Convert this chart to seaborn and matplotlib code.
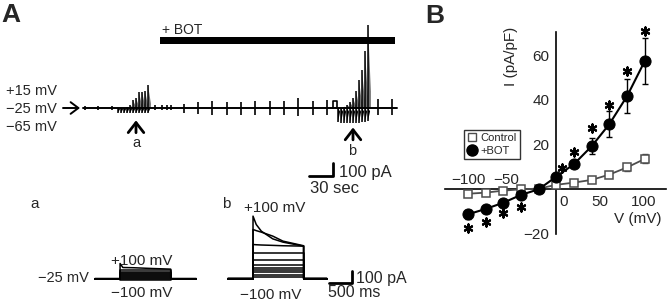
import numpy as np
import pandas as pd
import matplotlib
matplotlib.use("Agg")
import matplotlib.pyplot as plt
import seaborn as sns
from matplotlib.lines import Line2D
from matplotlib.patches import ArrowStyle

# ---------------- data ----------------
# panel B: I-V relation (pA/pF vs mV)
volts = [-100, -80, -60, -40, -20, 0, 20, 40, 60, 80, 100]
ctrl_i = [-2.0, -1.5, -0.6, 0.0, 0.3, 2.0, 3.0, 4.2, 6.6, 9.8, 13.6]
ctrl_err = [0.8, 0.8, 0.7, 0.7, 0.6, 0.8, 0.8, 1.0, 1.2, 1.4, 2.0]
bot_i = [-11.2, -8.8, -6.0, -2.5, 0.0, 5.7, 11.3, 19.3, 29.2, 41.7, 57.4]
bot_err = [1.9, 1.2, 1.0, 1.0, 0.8, 1.2, 1.5, 3.7, 5.7, 7.7, 10.2]
star_v = [-100, -80, -60, -40, 6, 20, 40, 60, 80, 100]
star_i = [-17.5, -14.5, -10.7, -7.8, 9.4, 16.9, 27.3, 37.8, 52.7, 71.0]

# panel A top: continuous recording (time in s, current in pA)
trace_end = 392.5
pulse_t = [2.5, 18.75, 36.25, 90, 98.75, 105, 110,
           126.25, 143.75, 161.25, 180, 197.5, 215, 233.75, 251.25,
           268.75, 287.5, 305, 368.75, 386.25]
pulse_up = [15, 15, 15, 20, 20, 20, 20,
            31, 46, 54, 46, 46, 54, 54, 54, 77, 54, 62, 69, 69]
pulse_down = [15, 15, 15, 15, 15, 15, 15,
              38, 46, 54, 54, 54, 54, 54, 54, 62, 54, 54, 54, 54]
bump_t = [312.5, 317.5]
bump_amp = 54
burst_a_t = [43.75, 47.5, 51.25, 55.0, 58.75, 62.5, 66.25, 70.0, 73.75, 77.5, 81.25]
burst_a_up = [0, 0, 0, 8, 20, 60, 77, 120, 125, 131, 177]
burst_a_down = [35, 38, 38, 40, 38, 38, 38, 38, 38, 38, 38]
burst_b_t = [318.75, 322.5, 326.25, 330.0, 333.75, 337.5, 341.25, 345.0, 348.75, 352.5, 356.25]
burst_b_up = [0, 0, 10, 25, 45, 77, 131, 215, 292, 440, 640]
burst_b_down = [110, 115, 115, 115, 115, 115, 115, 115, 110, 110, 100]
bot_start, bot_stop = 96.25, 390.0

# panel A bottom: current families (time in ms, current in pA)
step_on, step_dur = 545, 1100
a_end = 2200
b_shift, b_end = 2890, 2150
a_levels = [-8, 0, 6, 12, 20, 28, 36, 45, 55, 70]
a_top_t = [0, 60, 300, 700, 1100]
a_top_i = [120, 88, 86, 80, 75]
b_levels = [13, 32, 51, 67, 85, 112, 152, 205]
b_decay_t = [0, 70, 180, 430, 650, 1100]
b_i_60 = [272, 270, 268, 265, 262, 259]
b_i_80 = [392, 383, 371, 339, 299, 262]
b_i_100 = [499, 432, 379, 317, 291, 259]

# ---------------- figure ----------------
sns.set_style("white")
plt.rcParams['font.family'] = ['Liberation Sans', 'DejaVu Sans']

W, H = 669, 303
fig = plt.figure(figsize=(W / 100, H / 100), dpi=100)


def box(x0, y0, x1, y1):
    # pixel box -> figure fraction rect
    return [x0 / W, 1 - y1 / H, (x1 - x0) / W, (y1 - y0) / H]


up_arrow = dict(arrowstyle=ArrowStyle('->', head_length=0.45, head_width=0.35),
                lw=2, mutation_scale=16, color='black', shrinkA=0, shrinkB=0)

# --- A top trace ---
ax_a = fig.add_axes(box(80, 15, 400, 185))
ax_a.set_xlim(-3.75, 396.25)
ax_a.set_ylim(-592.3, 715.4)
ax_a.axis('off')

ax_a.plot([0, trace_end], [0, 0], color='black', lw=1.4)
ax_a.vlines(pulse_t, [-d for d in pulse_down], pulse_up, color='black', lw=1.2)
ax_a.plot([bump_t[0], bump_t[0], bump_t[1], bump_t[1]], [0, bump_amp, bump_amp, 0],
          color='black', lw=1.2)
for ts, ups, downs in [(burst_a_t, burst_a_up, burst_a_down),
                       (burst_b_t, burst_b_up, burst_b_down)]:
    for t, up, dn in zip(ts, ups, downs):
        ax_a.fill([t, t, t + 3.6, t + 3.6], [0, up, up * 0.2, 0], color='0.45', lw=0)
        ax_a.fill([t, t, t + 2.6], [0, -dn, -dn * 0.25], color='black', lw=0)
        ax_a.vlines(t, -dn, up, color='black', lw=1.1)
ax_a.fill_between([bot_start, bot_stop], 492, 546, color='black', lw=0)

# scale bar 30 s / 100 pA
ax_a.plot([282.5, 312.5, 312.5], [-523, -523, -423], color='black', lw=2)

# arrows a / b
ax_a.annotate('', xy=(66.25, -95), xytext=(66.25, -190), arrowprops=up_arrow)
ax_a.annotate('', xy=(337.5, -150), xytext=(337.5, -245), arrowprops=up_arrow)

# --- A bottom traces ---
ax_l = fig.add_axes(box(90, 190, 370, 300))
ax_l.set_xlim(-108.7, 5978)
ax_l.set_ylim(-172, 708)
ax_l.axis('off')


def sweep(shift, end, seg_t, seg_i):
    t = [shift, shift + step_on] + [shift + step_on + x for x in seg_t] + \
        [shift + step_on + step_dur, shift + end]
    i = [0, 0] + list(seg_i) + [0, 0]
    return t, i


for lvl in a_levels:
    t, i = sweep(0, a_end, [0, step_dur], [lvl, lvl])
    ax_l.plot(t, i, color='black', lw=1.1)
t, i = sweep(0, a_end, a_top_t, a_top_i)
ax_l.plot(t, i, color='black', lw=1.1)

for lvl in b_levels:
    t, i = sweep(b_shift, b_end, [0, step_dur], [lvl, lvl])
    ax_l.plot(t, i, color='black', lw=1.1)
for seg in [b_i_60, b_i_80, b_i_100]:
    t, i = sweep(b_shift, b_end, b_decay_t, seg)
    ax_l.plot(t, i, color='black', lw=1.1)

# scale bar 500 ms / 100 pA
ax_l.plot([5087, 5587, 5587], [-36, -36, 64], color='black', lw=2)

# --- B: I-V curve ---
ax_b = fig.add_axes(box(445, 30.6, 666, 235.1))
ax_b.set_xlim(-126, 124)
ax_b.set_ylim(-20.5, 71)

ax_b.errorbar(volts, ctrl_i, yerr=ctrl_err, fmt='none', ecolor='#4d4d4d',
              elinewidth=1, capsize=2.5, capthick=1, zorder=2)
ax_b.errorbar(volts, bot_i, yerr=bot_err, fmt='none', ecolor='black',
              elinewidth=1, capsize=2.5, capthick=1, zorder=2)
sns.lineplot(x=volts, y=ctrl_i, ax=ax_b, color='#4d4d4d', lw=1.3, marker='s',
             markersize=5.5, markerfacecolor='white', markeredgecolor='#4d4d4d',
             markeredgewidth=1.1, zorder=3)
sns.lineplot(x=volts, y=bot_i, ax=ax_b, color='black', lw=1.5, marker='o',
             markersize=8, markerfacecolor='black', markeredgecolor='black', zorder=4)
ax_b.scatter(star_v, star_i, marker=(6, 2, 0), s=34, color='black',
             linewidths=1.6, clip_on=False, zorder=5)

for s in ['top', 'right']:
    ax_b.spines[s].set_visible(False)
ax_b.spines['left'].set_position(('data', 0))
ax_b.spines['bottom'].set_position(('data', 0))
ax_b.spines['left'].set_bounds(-20, 70.5)
for s in ['left', 'bottom']:
    ax_b.spines[s].set_linewidth(1.2)
    ax_b.spines[s].set_color('black')
ax_b.set_yticks([-20, 20, 40, 60])
ax_b.set_yticklabels(['\u221220', '20', '40', '60'])
ax_b.set_xticks([])
ax_b.tick_params(axis='y', direction='out', length=4, width=1.2, labelsize=11, pad=1)
ax_b.set_facecolor('none')

for v, txt, y in [(-100, '\u2212100', 4.2), (-57, '\u221250', 4.2),
                  (8.3, '0', -5.7), (49, '50', -5.7), (99, '100', -5.7)]:
    ax_b.text(v, y, txt, ha='center', va='center', fontsize=11)
ax_b.text(92, -13.3, 'V (mV)', ha='center', va='center', fontsize=11)

handles = [Line2D([], [], ls='none', marker='s', markersize=6, markerfacecolor='white',
                  markeredgecolor='#4d4d4d', markeredgewidth=1),
           Line2D([], [], ls='none', marker='o', markersize=8, color='black')]
leg = ax_b.legend(handles, ['Control', '+BOT'], loc='upper left',
                  bbox_to_anchor=(464 / W, 1 - 130 / H), bbox_transform=fig.transFigure,
                  fontsize=8, frameon=True, fancybox=False, handlelength=0.8,
                  handletextpad=0.4, borderpad=0.3, labelspacing=0.2, borderaxespad=0)
leg.get_frame().set_edgecolor('black')
leg.get_frame().set_linewidth(1)

# --- text overlay in pixel coords ---
ov = fig.add_axes([0, 0, 1, 1])
ov.set_xlim(0, W)
ov.set_ylim(H, 0)
ov.axis('off')
ov.patch.set_alpha(0)

texts = [
    (1, 22, 'A', 19, 'bold', 'left'),
    (425, 23, 'B', 19, 'bold', 'left'),
    (162, 34, '+ BOT', 10, 'normal', 'left'),
    (6, 95, '+15 mV', 10.5, 'normal', 'left'),
    (6, 113, '\u221225 mV', 10.5, 'normal', 'left'),
    (6, 131, '\u221265 mV', 10.5, 'normal', 'left'),
    (136, 147, 'a', 10.5, 'normal', 'center'),
    (352, 155, 'b', 10.5, 'normal', 'center'),
    (339, 177, '100 pA', 12, 'normal', 'left'),
    (310, 193, '30 sec', 12, 'normal', 'left'),
    (30, 208, 'a', 11, 'normal', 'left'),
    (222, 208, 'b', 11, 'normal', 'left'),
    (111, 265, '+100 mV', 11, 'normal', 'left'),
    (38, 282, '\u221225 mV', 10.5, 'normal', 'left'),
    (111, 297, '\u2212100 mV', 11, 'normal', 'left'),
    (244, 212, '+100 mV', 11, 'normal', 'left'),
    (240, 299, '\u2212100 mV', 11, 'normal', 'left'),
    (356, 283, '100 pA', 11.5, 'normal', 'left'),
    (328, 297, '500 ms', 11.5, 'normal', 'left'),
]
for x, y, s, fs, fw, ha in texts:
    ov.text(x, y, s, fontsize=fs, fontweight=fw, ha=ha, va='baseline')
ov.text(511, 56, 'I (pA/pF)', fontsize=11, rotation=90, ha='center', va='center')
ov.annotate('', xy=(80, 108), xytext=(63, 108),
            arrowprops=dict(arrowstyle=ArrowStyle('->', head_length=0.4, head_width=0.3),
                            lw=1.4, mutation_scale=14, color='black',
                            shrinkA=0, shrinkB=0))

fig.savefig('out.png', dpi=100)
